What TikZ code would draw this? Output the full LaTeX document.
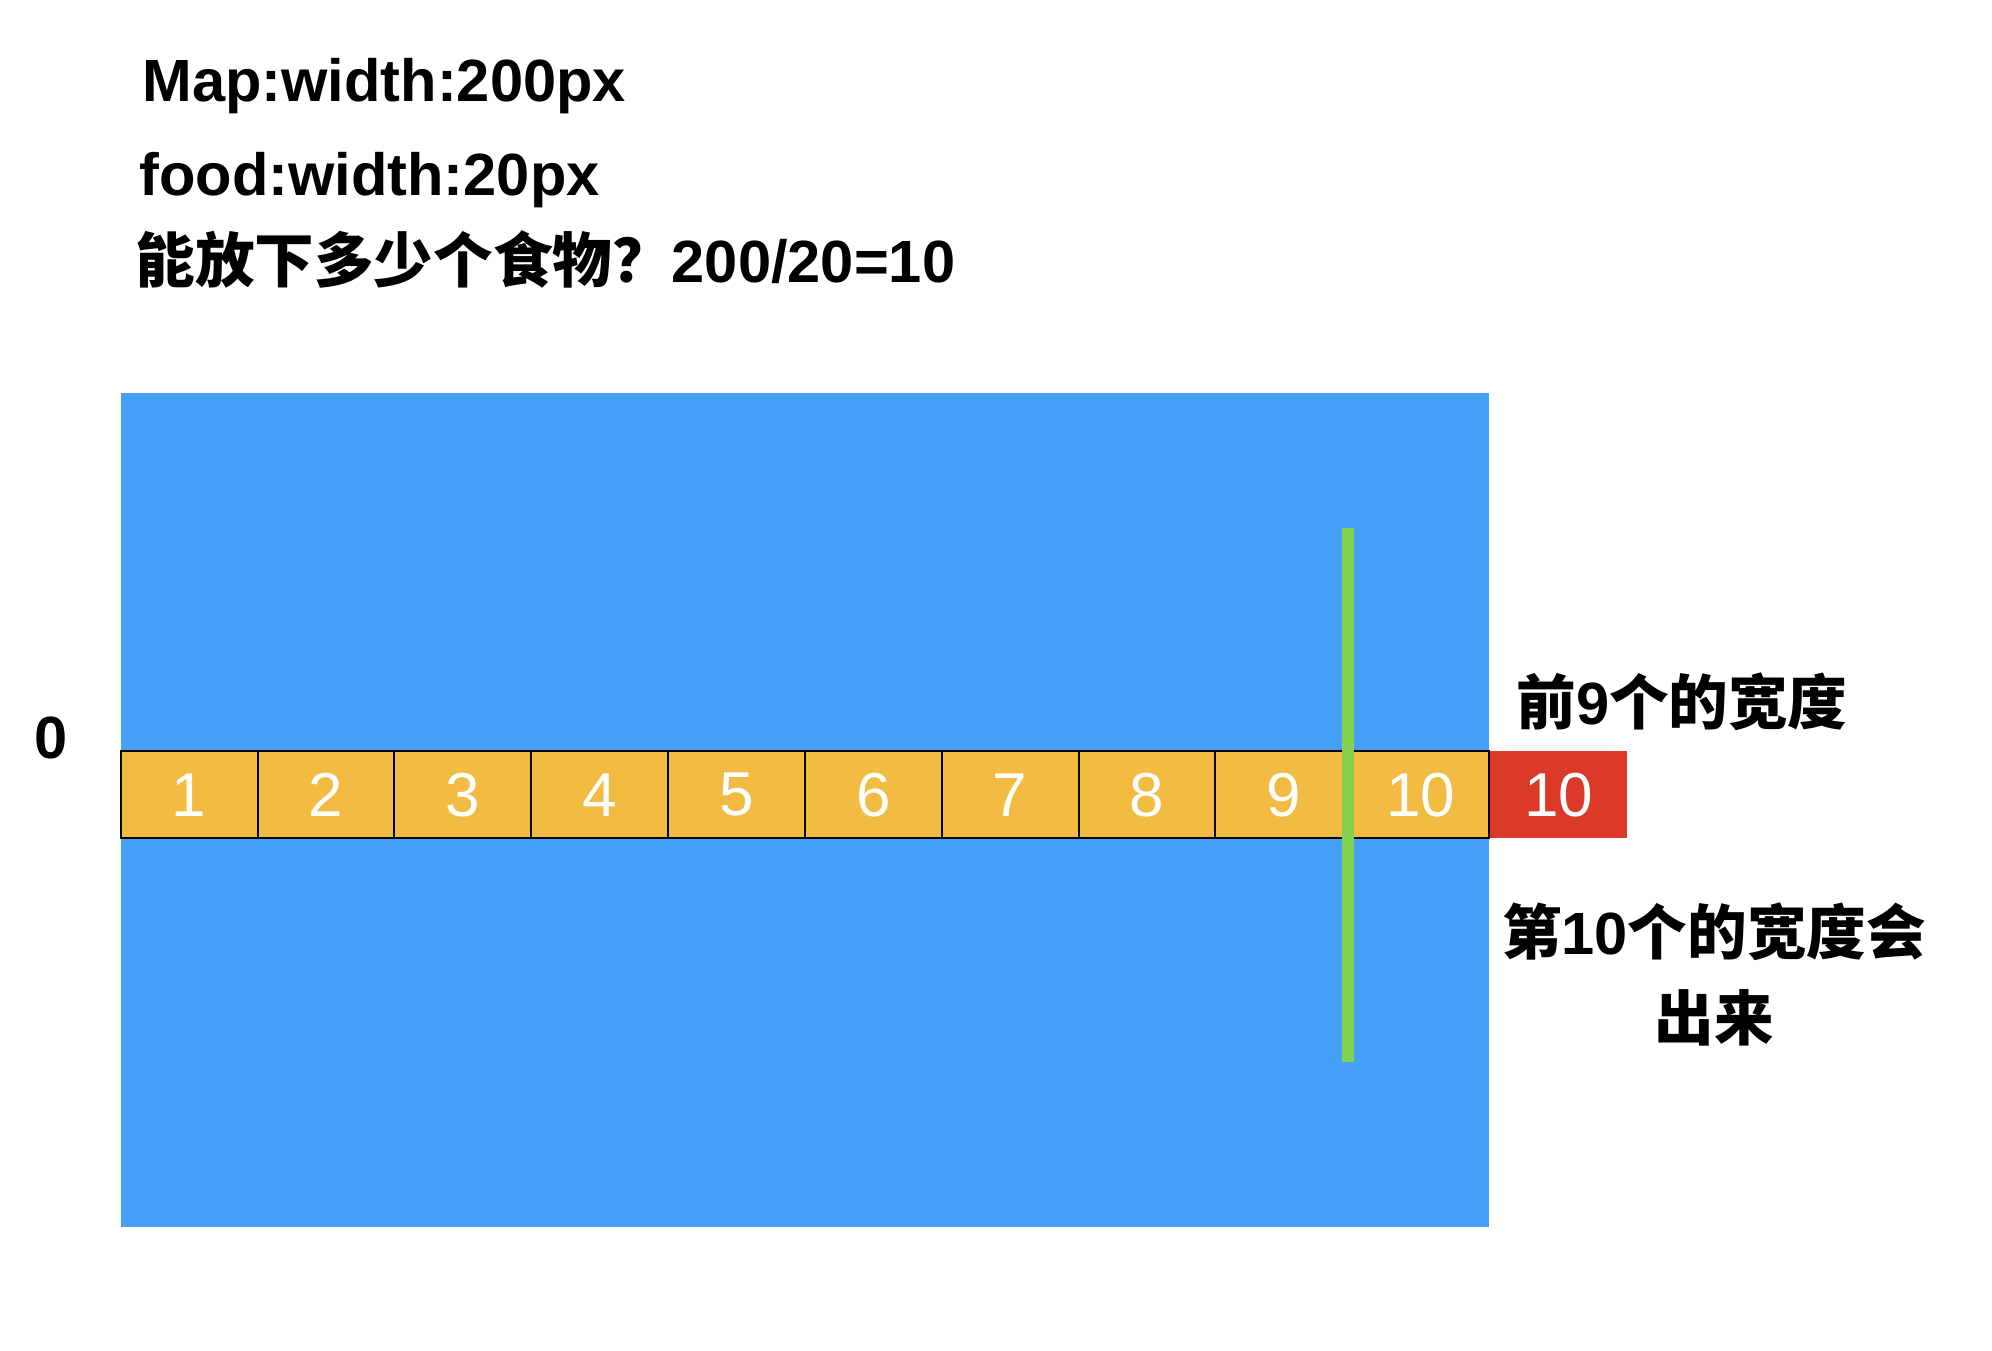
\documentclass[tikz,border=0pt]{standalone}
\usepackage{fontspec}
\setmainfont{Liberation Sans}
\newfontfamily\cjk{Noto Sans CJK SC}
\usetikzlibrary{positioning}
\definecolor{mapblue}{RGB}{68,161,247}
\definecolor{foodyellow}{RGB}{242,188,66}
\definecolor{foodred}{RGB}{219,58,40}
\definecolor{linegreen}{RGB}{132,209,80}

\begin{document}
\begin{tikzpicture}[x=0.5pt, y=-0.5pt,
    food cell/.style={draw=black, line width=1pt, fill=foodyellow, text=white, minimum width=68.42pt, minimum height=43.75pt, inner sep=0pt, font=\fontsize{31}{36}\selectfont},
    spill cell/.style={fill=foodred, text=white, minimum width=68.5pt, minimum height=43.25pt, inner sep=0pt, font=\fontsize{31}{36}\selectfont},
    note/.style={inner sep=0pt, font=\fontsize{29.8}{43}\selectfont\bfseries}]
    \useasboundingbox (0,0) rectangle (1992,1350);

    % map area
    \fill[mapblue] (120.7,392.5) rectangle (1489,1227);

    % row of food
    \foreach \i in {1,...,10}
        \node[food cell] (food\i) at ({120.7+136.83*(\i-0.5)},794.7) {\i};
    \node[spill cell, anchor=west] (spill) at (food10.east) {10};

    % boundary after nine foods
    \fill[linegreen] (1341.5,528) rectangle (1354,1062);

    \node[note, anchor=base west] (mapw) at (142,101.7) {Map:width:200px};
    \node[note, anchor=base west] (foodw) at (139,195) {food:width:20px};
    \node[note, anchor=base west] (count) at (135,282) {{\cjk 能放下多少个食物？}200/20=10};
    \node[note, anchor=base] (zero) at (51,758) {0};
    \node[note, anchor=base] (nine) at (1682,724) {{\cjk 前}9{\cjk 个的宽度}};
    \node[note, anchor=base, align=center] (tenth) at (1714,1040) {{\cjk 第}10{\cjk 个的宽度会}\\{\cjk 出来}};
\end{tikzpicture}
\end{document}
